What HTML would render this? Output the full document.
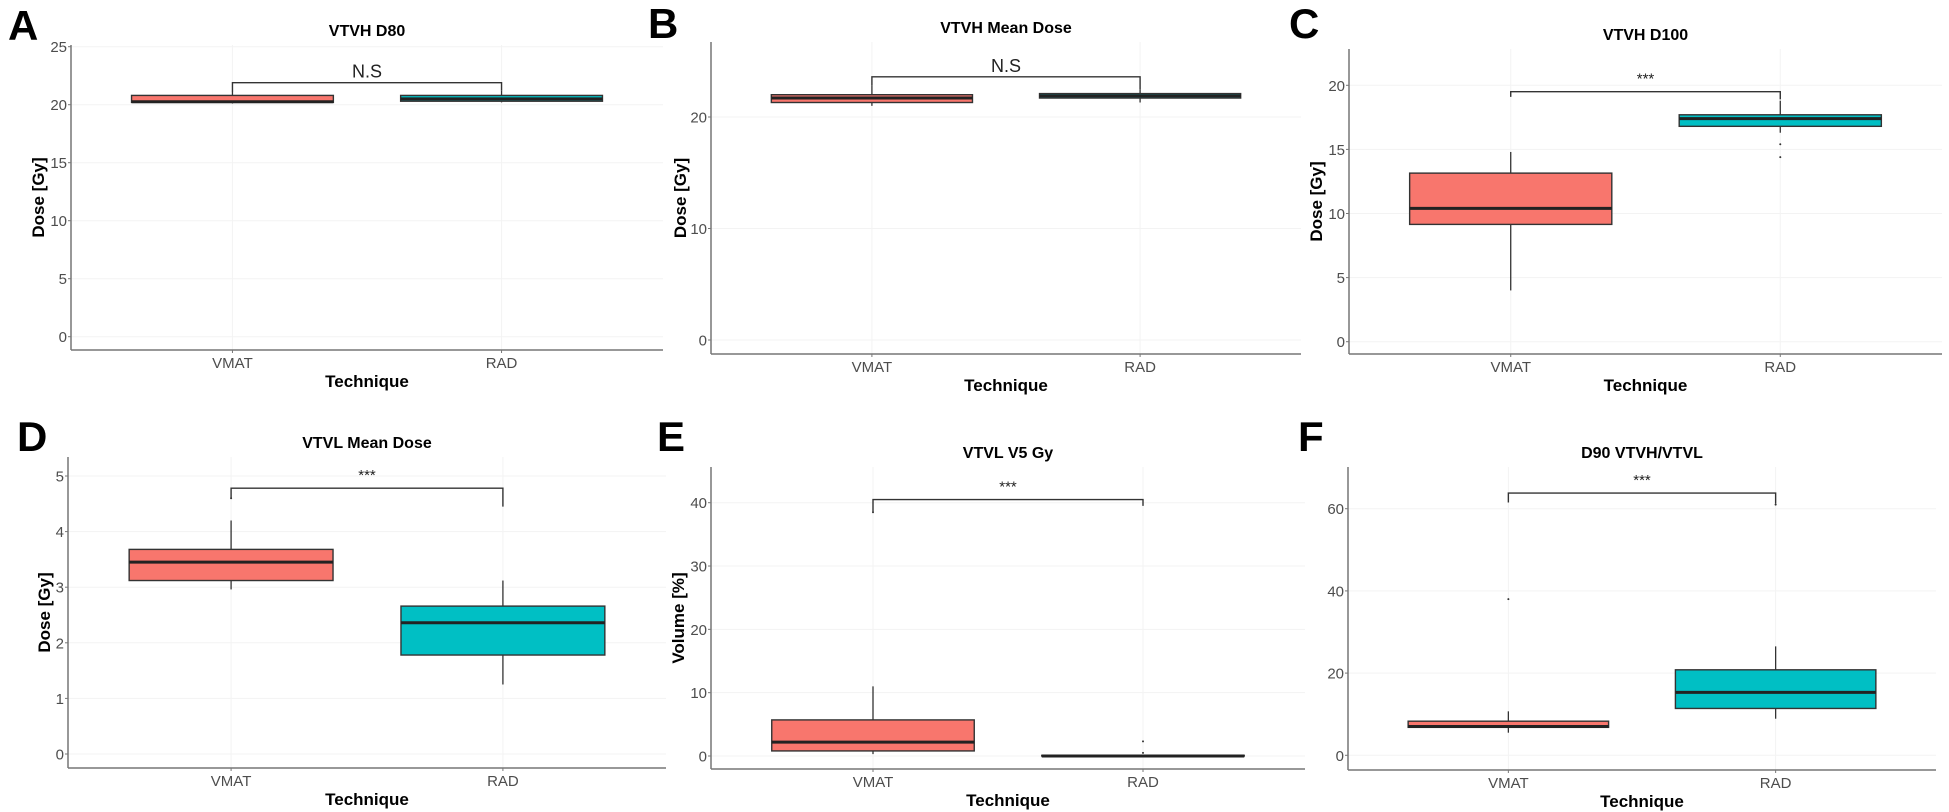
<!DOCTYPE html>
<html><head><meta charset="utf-8">
<style>
html,body{margin:0;padding:0;background:#fff;}
svg{display:block;font-family:"Liberation Sans",sans-serif;}
</style></head>
<body>
<svg id="fig" width="1949" height="812" viewBox="0 0 1949 812" xmlns="http://www.w3.org/2000/svg"></svg>
<script>
// ---- data ----
const categories = ["VMAT", "RAD"];
// Panel A: VTVH D80
const aTicks = [0, 5, 10, 15, 20, 25];
const aLo = [20.1, 20.2], aQ1 = [20.2, 20.3], aMed = [20.25, 20.5], aQ3 = [20.8, 20.8], aHi = [21.1, 21.2];
const aOut = [[], []];
// Panel B: VTVH Mean Dose
const bTicks = [0, 10, 20];
const bLo = [21.0, 21.3], bQ1 = [21.3, 21.7], bMed = [21.7, 21.9], bQ3 = [22.0, 22.1], bHi = [22.8, 22.5];
const bOut = [[], []];
// Panel C: VTVH D100
const cTicks = [0, 5, 10, 15, 20];
const cLo = [4.0, 16.3], cQ1 = [9.15, 16.8], cMed = [10.4, 17.4], cQ3 = [13.15, 17.7], cHi = [14.8, 18.8];
const cOut = [[], [15.4, 14.4]];
// Panel D: VTVL Mean Dose
const dTicks = [0, 1, 2, 3, 4, 5];
const dLo = [2.96, 1.25], dQ1 = [3.12, 1.78], dMed = [3.45, 2.36], dQ3 = [3.68, 2.66], dHi = [4.2, 3.12];
const dOut = [[4.6], []];
// Panel E: VTVL V5 Gy
const eTicks = [0, 10, 20, 30, 40];
const eLo = [0.3, 0], eQ1 = [0.8, 0], eMed = [2.2, 0], eQ3 = [5.7, 0.1], eHi = [11, 0.1];
const eOut = [[38.5], [2.3, 0.5]];
// Panel F: D90 VTVH/VTVL
const fTicks = [0, 20, 40, 60];
const fLo = [5.5, 8.9], fQ1 = [6.8, 11.4], fMed = [7.0, 15.3], fQ3 = [8.3, 20.8], fHi = [10.7, 26.5];
const fOut = [[38], [61]];
const sigLabels = ["N.S", "N.S", "***", "***", "***", "***"];
const sigLevels = [21.9, 23.6, 19.5, 4.78, 40.5, 63.8];
const sigDrops = [[21.1, 21.2], [22.8, 22.5], [19.1, 18.9], [4.6, 4.45], [38.6, 39.5], [61.5, 61.2]];

const fills = ["#F8766D", "#00BFC4"];
const NS = "http://www.w3.org/2000/svg";
const svg = document.getElementById("fig");
function mk(tag, attrs, parent, text) {
  const e = document.createElementNS(NS, tag);
  for (const k in attrs) e.setAttribute(k, attrs[k]);
  if (text !== undefined) e.textContent = text;
  (parent || svg).appendChild(e);
  return e;
}

// layout (pixels), separate from data
const layouts = [
  {id:"a", letter:"A", lx:8, ly:40, title:"VTVH D80", x0:71, x1:663, yTop:45, yAxis:350, v0y:336.7, v1:25, v1y:46.7, ylab:"Dose [Gy]", ylx:38},
  {id:"b", letter:"B", lx:648, ly:38, title:"VTVH Mean Dose", x0:711, x1:1301, yTop:42, yAxis:354, v0y:340, v1:20, v1y:117, ylab:"Dose [Gy]", ylx:680},
  {id:"c", letter:"C", lx:1289, ly:38, title:"VTVH D100", x0:1349, x1:1942, yTop:49, yAxis:354, v0y:341.7, v1:20, v1y:85.3, ylab:"Dose [Gy]", ylx:1316},
  {id:"d", letter:"D", lx:17, ly:451, title:"VTVL Mean Dose", x0:68, x1:666, yTop:457, yAxis:768, v0y:754, v1:5, v1y:476, ylab:"Dose [Gy]", ylx:44},
  {id:"e", letter:"E", lx:657, ly:451, title:"VTVL V5 Gy", x0:711, x1:1305, yTop:467, yAxis:769, v0y:756, v1:40, v1y:502.7, ylab:"Volume [%]", ylx:678},
  {id:"f", letter:"F", lx:1298, ly:451, title:"D90 VTVH/VTVL", x0:1348, x1:1936, yTop:467, yAxis:770, v0y:755.3, v1:60, v1y:508.7, ylab:"", ylx:0}
];
const panelData = [
  {ticks:aTicks, lo:aLo, q1:aQ1, med:aMed, q3:aQ3, hi:aHi, out:aOut},
  {ticks:bTicks, lo:bLo, q1:bQ1, med:bMed, q3:bQ3, hi:bHi, out:bOut},
  {ticks:cTicks, lo:cLo, q1:cQ1, med:cMed, q3:cQ3, hi:cHi, out:cOut},
  {ticks:dTicks, lo:dLo, q1:dQ1, med:dMed, q3:dQ3, hi:dHi, out:dOut},
  {ticks:eTicks, lo:eLo, q1:eQ1, med:eMed, q3:eQ3, hi:eHi, out:eOut},
  {ticks:fTicks, lo:fLo, q1:fQ1, med:fMed, q3:fQ3, hi:fHi, out:fOut}
];

layouts.forEach((L, pi) => {
  const D = panelData[pi];
  const g = mk("g", {});
  
  
  const y = v => L.v0y - (v * (L.v0y - L.v1y) / L.v1);
  const unit = (L.x1 - L.x0) / 2.2;
  const x = i => L.x0 + unit * (0.6 + i);
  const halfW = unit * 0.375;

  const lt = mk("text", {x:L.lx, y:L.ly, "font-size":42, "font-weight":"bold", fill:"#000"}, g, L.letter);
  
  
  const tt = mk("text", {x:(L.x0 + L.x1) / 2, y:L.yTop - 9, "font-size":16, "font-weight":"bold", "text-anchor":"middle", fill:"#000"}, g, L.title);
  
  

  // grid
  D.ticks.forEach(t => {
    mk("line", {x1:L.x0, x2:L.x1, y1:y(t), y2:y(t), stroke:"#f3f3f3", "stroke-width":1}, g);
  });
  categories.forEach((c, i) => {
    mk("line", {x1:x(i), x2:x(i), y1:L.yTop, y2:L.yAxis, stroke:"#f3f3f3", "stroke-width":1}, g);
  });

  // axes
  const ya = mk("line", {x1:L.x0, x2:L.x0, y1:L.yTop, y2:L.yAxis, stroke:"#777", "stroke-width":1.5}, g);
  
  
  const xa = mk("line", {x1:L.x0, x2:L.x1, y1:L.yAxis, y2:L.yAxis, stroke:"#777", "stroke-width":1.5}, g);
  
  

  D.ticks.forEach(t => {
    mk("line", {x1:L.x0 - 3, x2:L.x0, y1:y(t), y2:y(t), stroke:"#777", "stroke-width":1}, g);
    const tl = mk("text", {x:L.x0 - 4, y:y(t) + 5.5, "font-size":15, "text-anchor":"end", fill:"#4d4d4d"}, g, String(t));
    
    
  });
  categories.forEach((c, i) => {
    mk("line", {x1:x(i), x2:x(i), y1:L.yAxis, y2:L.yAxis + 3, stroke:"#777", "stroke-width":1}, g);
    const cl = mk("text", {x:x(i), y:L.yAxis + 18, "font-size":15, "text-anchor":"middle", fill:"#4d4d4d"}, g, c);
    
    
  });
  const xt = mk("text", {x:(L.x0 + L.x1) / 2, y:L.yAxis + 37, "font-size":17, "font-weight":"bold", "text-anchor":"middle", fill:"#000"}, g, "Technique");
  
  
  if (L.ylab) {
    const cy = (L.yTop + L.yAxis) / 2;
    const yt = mk("text", {x:L.ylx, y:cy, "font-size":17, "font-weight":"bold", "text-anchor":"middle", fill:"#000", transform:"rotate(-90 " + L.ylx + " " + cy + ")", dy:6}, g, L.ylab);
    
    
  }

  // boxes
  categories.forEach((c, i) => {
    const bg = mk("g", {}, g);
    
    
    mk("line", {x1:x(i), x2:x(i), y1:y(D.hi[i]), y2:y(D.q3[i]), stroke:"#333", "stroke-width":1.3}, bg);
    mk("line", {x1:x(i), x2:x(i), y1:y(D.q1[i]), y2:y(D.lo[i]), stroke:"#333", "stroke-width":1.3}, bg);
    const top = y(D.q3[i]), bot = y(D.q1[i]);
    mk("rect", {x:x(i) - halfW, y:top, width:2 * halfW, height:Math.max(bot - top, 0.5), fill:fills[i], stroke:"#333", "stroke-width":1.4}, bg);
    mk("line", {x1:x(i) - halfW, x2:x(i) + halfW, y1:y(D.med[i]), y2:y(D.med[i]), stroke:"#222", "stroke-width":3}, bg);
    D.out[i].forEach(o => {
      const p = mk("circle", {cx:x(i), cy:y(o), r:1, fill:"#333"}, bg);
      
      
    });
  });

  // significance bracket
  const sl = sigLevels[pi], sd = sigDrops[pi];
  const br = mk("path", {d:"M" + x(0) + "," + y(sd[0]) + " L" + x(0) + "," + y(sl) + " L" + x(1) + "," + y(sl) + " L" + x(1) + "," + y(sd[1]), fill:"none", stroke:"#333", "stroke-width":1.4}, g);
  
  
  const isNS = sigLabels[pi] === "N.S";
  const st = mk("text", {x:(x(0) + x(1)) / 2, y:y(sl) - (isNS ? 5 : 8), "font-size":isNS ? 18 : 15, "text-anchor":"middle", fill:"#222"}, g, sigLabels[pi]);
  
  
});
</script>
</body></html>
